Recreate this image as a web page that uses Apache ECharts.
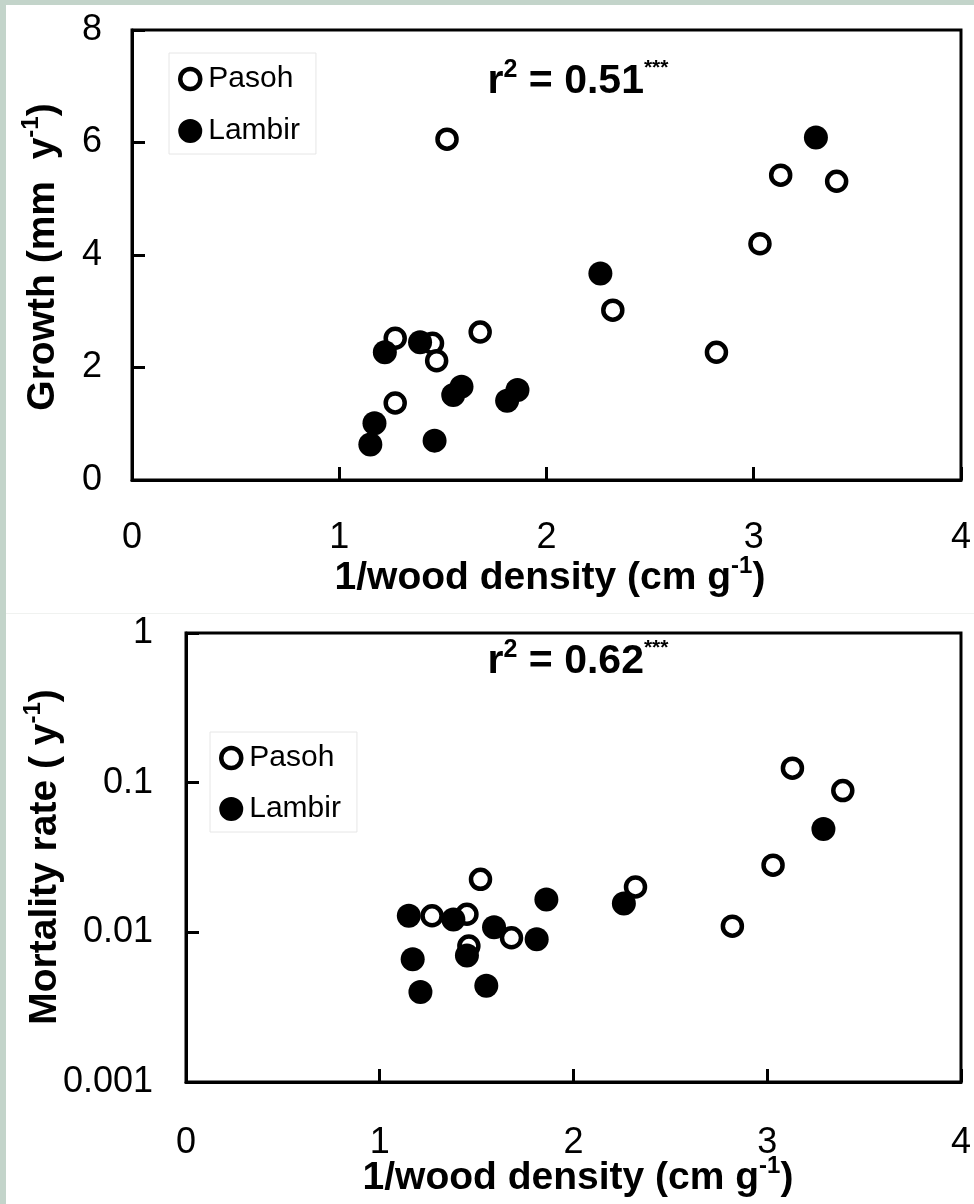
<!DOCTYPE html>
<html>
<head>
<meta charset="utf-8">
<script src="https://cdn.jsdelivr.net/npm/echarts@6/dist/echarts.min.js"></script>
<style>
html,body{margin:0;padding:0;background:#C3D4CA;}
#c{width:974px;height:1204px;}
</style>
</head>
<body>
<div id="c"></div>
<script>
// ---- data ----
var seriesNames = ['Pasoh', 'Lambir'];
var xTickLabels = ['0', '1', '2', '3', '4'];
var growthTickLabels = ['0', '2', '4', '6', '8'];
var mortTickLabels = ['0.001', '0.01', '0.1', '1'];

var growthPasohX = [1.27, 1.45, 1.47, 1.68, 1.27, 1.52, 2.32, 2.82, 3.03, 3.13, 3.40];
var growthPasohY = [2.52, 2.43, 2.12, 2.63, 1.37, 6.06, 3.02, 2.27, 4.20, 5.42, 5.31];
var growthLambirX = [1.22, 1.39, 1.17, 1.15, 1.46, 1.55, 1.59, 1.81, 1.86, 2.26, 3.30];
var growthLambirY = [2.27, 2.45, 1.01, 0.63, 0.70, 1.51, 1.66, 1.41, 1.60, 3.67, 6.09];

var mortPasohX = [1.27, 1.45, 1.46, 1.52, 1.68, 2.32, 2.82, 3.03, 3.13, 3.39];
var mortPasohY = [0.0129, 0.0132, 0.0081, 0.0226, 0.0092, 0.0201, 0.0110, 0.0281, 0.125, 0.0885];
var mortLambirX = [1.15, 1.38, 1.17, 1.21, 1.45, 1.55, 1.59, 1.81, 1.86, 2.26, 3.29];
var mortLambirY = [0.0129, 0.0122, 0.0066, 0.0040, 0.0070, 0.0044, 0.0108, 0.0090, 0.0166, 0.0156, 0.0491];

var growthR2 = '0.51';
var mortR2 = '0.62';

function zip(xs, ys) { return xs.map(function (x, i) { return [x, ys[i]]; }); }

var FONT = '"Liberation Sans", Arial, sans-serif';
var openStyle = { color: '#fff', borderColor: '#000', borderWidth: 4.5, opacity: 1 };
var fillStyle = { color: '#000', borderWidth: 0, opacity: 1 };
var openLegend = { color: '#fff', borderColor: '#000', borderWidth: 4.5 };
var fillLegend = { color: '#000', borderColor: '#000', borderWidth: 4 };

function xAxisCfg(gridIndex, margin) {
  return {
    type: 'value', gridIndex: gridIndex, min: 0, max: 4, interval: 1,
    axisLine: { show: true, onZero: false, lineStyle: { color: '#000', width: 3 } },
    axisTick: { show: true, inside: true, length: 13, lineStyle: { color: '#000', width: 3 } },
    axisLabel: { fontSize: 36, color: '#000', fontFamily: FONT, margin: margin,
      formatter: function (v) { return xTickLabels[Math.round(v)]; } },
    splitLine: { show: false }
  };
}

function rich(size) {
  return {
    b: { fontSize: size, fontWeight: 'bold', fontFamily: FONT, color: '#000', lineHeight: size * 1.2 },
    s: { fontSize: Math.round(size * 0.62), fontWeight: 'bold', fontFamily: FONT, color: '#000', verticalAlign: 'top', lineHeight: Math.round(size * 0.62) },
    t: { fontSize: Math.round(size * 0.5), fontWeight: 'bold', fontFamily: FONT, color: '#000', verticalAlign: 'top', lineHeight: Math.round(size * 0.5) }
  };
}

function txt(x, y, text, size, rot) {
  return {
    type: 'text', x: x, y: y, rotation: rot || 0, z: 10,
    style: { text: text, rich: rich(size), align: 'center', verticalAlign: 'middle' }
  };
}

function legendCfg(left, top, gap) {
  return {
    left: left, top: top, orient: 'vertical', padding: [11, 16, 8, 9], itemGap: gap,
    itemWidth: 20, itemHeight: 20, borderColor: '#e6e6e6', borderWidth: 1,
    backgroundColor: '#fff', selectedMode: false,
    textStyle: { fontSize: 30, color: '#000', fontFamily: FONT, padding: [0, 0, 0, 3] },
    data: [
      { name: seriesNames[0], icon: 'circle', itemStyle: openLegend },
      { name: seriesNames[1], icon: 'circle', itemStyle: fillLegend }
    ]
  };
}

var chart = echarts.init(document.getElementById('c'), null, { renderer: 'canvas' });
var option = {
  backgroundColor: '#C3D4CA',
  animation: false,
  textStyle: { fontFamily: FONT },
  grid: [
    { left: 132, top: 30, width: 836, height: 450, show: true, borderColor: '#000', borderWidth: 3, backgroundColor: 'transparent' },
    { left: 186, top: 633, width: 784, height: 449, show: true, borderColor: '#000', borderWidth: 3, backgroundColor: 'transparent' }
  ],
  xAxis: [xAxisCfg(0, 40), xAxisCfg(1, 43)],
  yAxis: [
    {
      type: 'value', gridIndex: 0, min: 0, max: 8, interval: 2,
      axisLine: { show: true, lineStyle: { color: '#000', width: 3 } },
      axisTick: { show: true, inside: true, length: 13, lineStyle: { color: '#000', width: 3 } },
      axisLabel: { fontSize: 36, color: '#000', fontFamily: FONT, margin: 30,
        formatter: function (v) { return growthTickLabels[Math.round(v / 2)]; } },
      splitLine: { show: false }
    },
    {
      type: 'log', gridIndex: 1, min: 0.001, max: 1, logBase: 10,
      axisLine: { show: true, lineStyle: { color: '#000', width: 3 } },
      axisTick: { show: true, inside: true, length: 13, lineStyle: { color: '#000', width: 3 } },
      minorTick: { show: false },
      axisLabel: { fontSize: 36, color: '#000', fontFamily: FONT, margin: 33,
        formatter: function (v) { return mortTickLabels[Math.round(Math.log10(v)) + 3]; } },
      splitLine: { show: false }
    }
  ],
  legend: [legendCfg(169, 53, 22), legendCfg(210, 732, 21)],
  graphic: [
    { type: 'rect', z: -10, shape: { x: 6, y: 5, width: 968, height: 1199 }, style: { fill: '#fff' } },
    { type: 'rect', z: -9, shape: { x: 6, y: 613, width: 968, height: 1 }, style: { fill: '#f0f2f0' } },
    txt(43, 257, '{b|Growth (mm  y}{s|-1}{b|)}', 39, Math.PI / 2),
    txt(45, 857, '{b|Mortality rate ( y}{s|-1}{b|)}', 39, Math.PI / 2),
    txt(550, 578, '{b|1/wood density (cm g}{s|-1}{b|)}', 39),
    txt(578, 1178, '{b|1/wood density (cm g}{s|-1}{b|)}', 39),
    txt(578, 82, '{b|r}{s|2}{b| = ' + growthR2 + '}{t|***}', 41),
    txt(578, 662, '{b|r}{s|2}{b| = ' + mortR2 + '}{t|***}', 41)
  ],
  series: [
    { name: seriesNames[0], type: 'scatter', xAxisIndex: 0, yAxisIndex: 0, symbol: 'circle', symbolSize: 19,
      itemStyle: openStyle, data: zip(growthPasohX, growthPasohY), z: 2 },
    { name: seriesNames[1], type: 'scatter', xAxisIndex: 0, yAxisIndex: 0, symbol: 'circle', symbolSize: 24,
      itemStyle: fillStyle, data: zip(growthLambirX, growthLambirY), z: 3 },
    { name: seriesNames[0], type: 'scatter', xAxisIndex: 1, yAxisIndex: 1, symbol: 'circle', symbolSize: 19,
      itemStyle: openStyle, data: zip(mortPasohX, mortPasohY), z: 2 },
    { name: seriesNames[1], type: 'scatter', xAxisIndex: 1, yAxisIndex: 1, symbol: 'circle', symbolSize: 24,
      itemStyle: fillStyle, data: zip(mortLambirX, mortLambirY), z: 3 }
  ]
};
chart.setOption(option);
</script>
</body>
</html>
